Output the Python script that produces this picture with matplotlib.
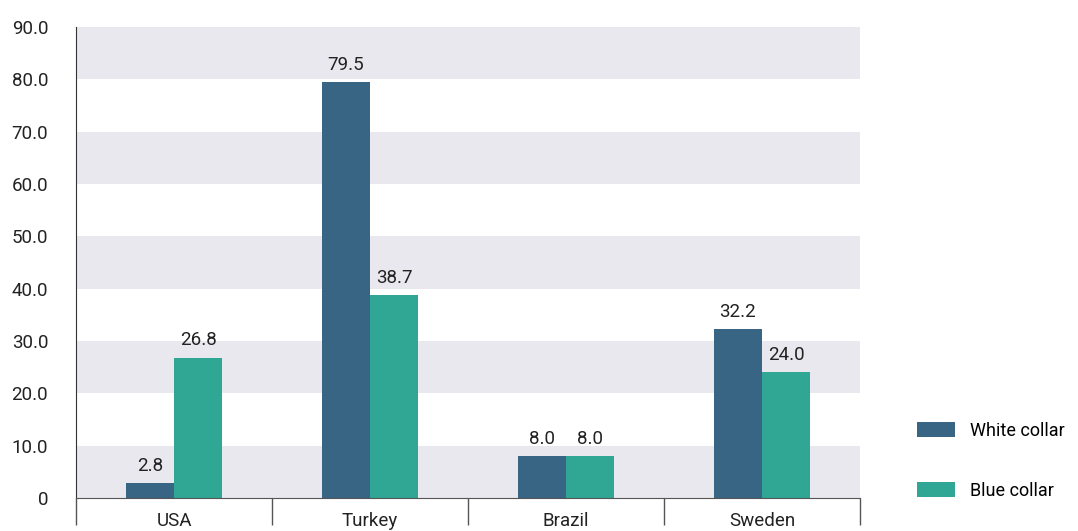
import matplotlib
matplotlib.use('Agg')
import matplotlib.pyplot as plt
import numpy as np

countries = ['USA', 'Turkey', 'Brazil', 'Sweden']
white_collar = [2.8, 79.5, 8.0, 32.2]
blue_collar = [26.8, 38.7, 8.0, 24.0]
series_names = ['White collar', 'Blue collar']
y_ticks = [0, 10, 20, 30, 40, 50, 60, 70, 80, 90]

WHITE_C = '#386584'
BLUE_C = '#2fa794'
BAND_C = '#e8e8ee'
LINE_C = '#555555'

plt.rcParams['font.family'] = ['Roboto', 'DejaVu Sans']
FS = 13.5

fig = plt.figure(figsize=(10.78, 5.31), dpi=100)
ax = fig.add_axes([76 / 1078, 1 - 498 / 531, (860 - 76) / 1078, (498 - 27) / 531])

x = np.arange(len(countries))
w = 0.245

# alternating horizontal bands
for i, lo in enumerate(y_ticks[:-1]):
    if i % 2 == 0:
        ax.axhspan(lo, lo + 10, color=BAND_C, lw=0, zorder=0)

b1 = ax.bar(x - w / 2, white_collar, w, color=WHITE_C, label=series_names[0], zorder=2)
b2 = ax.bar(x + w / 2, blue_collar, w, color=BLUE_C, label=series_names[1], zorder=2)
for bars in (b1, b2):
    ax.bar_label(bars, labels=[f'{v:.1f}' for v in bars.datavalues],
                 padding=6, fontsize=FS, color='#222222')

ax.set_xlim(-0.5, len(countries) - 0.5)
ax.set_ylim(0, 90)

ax.set_yticks(y_ticks)
ax.set_yticklabels(['0' if v == 0 else f'{v:.1f}' for v in y_ticks])
ax.tick_params(axis='y', length=0, pad=20, labelsize=FS, labelcolor='#222222')

ax.set_xticks(x)
ax.set_xticklabels(countries)
ax.tick_params(axis='x', which='major', length=0, pad=10, labelsize=FS, labelcolor='#222222')
ax.set_xticks(np.arange(-0.5, len(countries)), minor=True)
ax.tick_params(axis='x', which='minor', length=19.5, width=1, color=LINE_C, direction='out')

for s in ('top', 'right'):
    ax.spines[s].set_visible(False)
ax.spines['left'].set_color('#333333')
ax.spines['bottom'].set_color(LINE_C)

fig.legend(handles=[b1, b2], labels=series_names, loc='lower left',
           bbox_to_anchor=(901 / 1078, 15 / 531), frameon=False, fontsize=13,
           handlelength=2.1, handleheight=0.83, labelspacing=2.33, handletextpad=0.83)

fig.savefig('out.png', dpi=100)
